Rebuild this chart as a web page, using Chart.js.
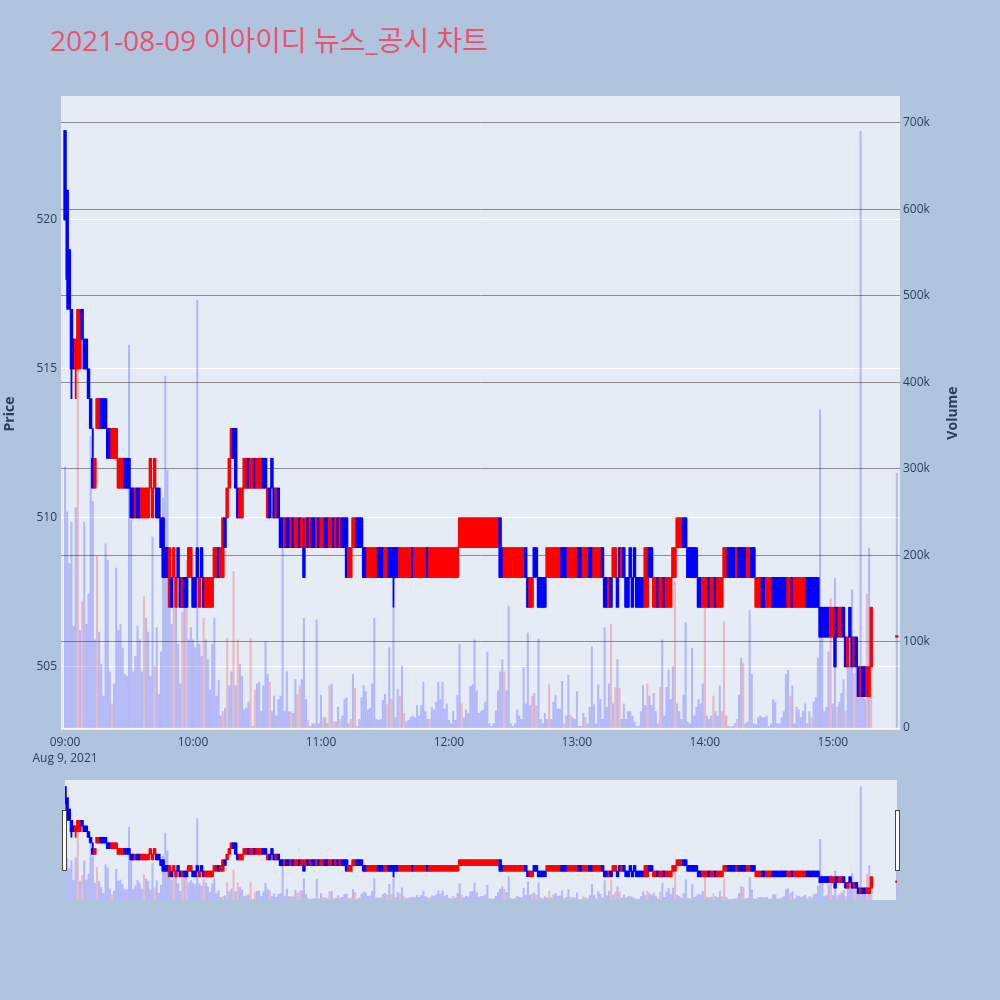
<!DOCTYPE html>
<html>
<head>
<meta charset="utf-8">
<script src="https://cdn.jsdelivr.net/npm/chart.js@4.4.0/dist/chart.umd.min.js"></script>
<style>
  html, body { margin: 0; padding: 0; background: #b0c4de; }
  #wrap { position: relative; width: 1000px; height: 1000px; }
  canvas { position: absolute; left: 0; }
  #mainChart { top: 0; }
  #sliderChart { top: 770px; }
</style>
</head>
<body>
<div id="wrap">
  <canvas id="mainChart" width="1000" height="770"></canvas>
  <canvas id="sliderChart" width="1000" height="140"></canvas>
</div>
<script>
// 1-minute candles, minutes after 09:00 (last entry = 15:30 closing auction)
var minutes = [];
for (var m = 0; m <= 378; m++) minutes.push(m);
minutes.push(390);

var opens = [
  523,521,519,517,516,515,515,515,517,516, 516,515,514,512,511,513,513,514,514,514,
  513,513,512,512,512,511,511,511,512,512, 512,511,511,510,511,511,510,510,510,510,
  511,510,511,511,511,510,510,509,509,507, 508,508,507,509,508,507,508,508,508,508,
  508,508,509,507,509,508,507,507,507,507, 508,508,509,508,508,510,510,511,512,513,
  513,511,510,510,511,511,512,511,511,512, 511,511,511,512,512,510,511,512,511,510,
  511,510,510,509,510,510,509,510,509,509, 510,509,509,509,510,509,510,510,509,510,
  509,509,510,510,509,509,510,509,510,509, 510,510,510,508,508,509,509,510,510,510,
  509,509,508,508,508,508,508,509,509,509, 508,508,509,509,509,509,509,508,508,508,
  508,508,508,509,508,508,508,508,508,508, 509,508,508,508,508,508,508,508,508,508,
  508,508,508,508,508,509,509,509,509,509, 509,509,509,509,509,509,509,509,509,509,
  509,509,509,509,510,509,508,508,508,508, 508,508,508,508,508,508,509,508,507,507,
  509,509,508,508,508,508,508,508,508,508, 508,508,508,509,509,509,508,508,508,508,
  508,509,509,508,508,508,509,509,508,508, 508,508,509,508,508,507,508,508,508,508,
  509,508,509,508,508,509,508,509,508,508, 508,508,507,507,509,509,507,507,508,507,
  507,508,507,507,507,508,508,509,509,509, 510,510,509,509,509,509,509,508,508,507,
  507,507,508,507,507,508,507,507,507,508, 508,509,509,509,509,508,509,509,509,509,
  508,508,509,509,507,507,507,508,508,507, 507,507,508,508,508,508,508,508,508,507,
  507,508,507,507,507,507,507,507,508,508, 508,508,508,508,507,507,507,507,507,506,
  506,506,507,506,506,507,506,505,507,506, 505,506,505,504,505,505,504,504,505,506
];
var closes = [
  520,518,517,515,515,516,517,517,516,515, 515,514,513,511,512,514,514,513,513,513,
  512,512,513,513,513,512,512,512,511,511, 511,510,510,511,510,510,511,511,511,511,
  512,511,512,510,510,509,508,508,508,509, 507,509,508,508,507,508,507,507,509,509,
  507,507,508,508,508,507,508,508,508,508, 509,509,508,509,510,509,511,512,513,512,
  511,510,511,511,512,512,511,512,512,511, 512,512,512,511,511,511,510,511,510,511,
  510,509,509,510,509,509,510,509,510,510, 509,510,508,510,509,510,509,509,510,509,
  510,510,509,509,510,510,509,510,509,510, 509,509,508,509,509,510,510,509,509,509,
  508,508,509,509,509,509,509,508,508,508, 509,509,508,508,508,508,508,509,509,509,
  509,509,509,508,509,509,509,509,509,509, 508,509,509,509,509,509,509,509,509,509,
  509,509,509,509,509,510,510,510,510,510, 510,510,510,510,510,510,510,510,510,510,
  510,510,510,510,508,508,509,509,509,509, 509,509,509,509,509,509,508,507,508,508,
  508,508,507,507,507,507,509,509,509,509, 509,509,509,508,508,508,509,509,509,509,
  509,508,508,509,509,509,508,508,509,509, 509,509,508,507,507,508,507,509,509,507,
  508,509,508,507,507,508,507,508,507,507, 507,507,509,509,508,508,508,508,507,508,
  508,507,508,508,508,509,509,510,510,510, 509,509,508,508,508,508,508,507,507,508,
  508,508,507,508,508,507,508,508,508,509, 509,508,508,508,508,509,508,508,508,508,
  509,509,508,508,508,508,508,507,507,508, 508,508,507,507,507,507,507,507,507,508,
  508,507,508,508,508,508,508,508,507,507, 507,507,507,507,506,506,506,506,506,507,
  507,505,506,507,507,506,505,506,506,505, 506,505,504,505,504,504,505,505,507,506
];
// wicks beyond the body, keyed by minute
var extraHighs = { 13: 513, 112: 510, 361: 507 };
var extraLows = { 1: 517, 3: 514, 5: 514, 154: 507 };

// volume in thousands of shares
var volumes = [
  302,250,190,238,118,255,445,113,146,238, 120,155,337,262,102,199,111,74,37,213,
  194,65,28,51,185,113,120,92,62,60, 443,240,65,83,118,102,65,152,127,111,
  60,221,72,116,39,88,266,407,298,208, 120,139,162,97,51,134,148,194,102,116,
  102,93,495,97,83,127,102,79,44,97, 127,37,55,14,19,23,104,49,65,181,
  49,102,74,60,21,23,30,104,2,44, 51,53,19,49,100,62,53,19,37,14,
  33,37,220,19,65,19,19,17,56,39, 49,56,127,33,9,2,5,5,125,5,
  38,12,12,5,49,51,7,7,24,10, 14,33,35,5,10,62,46,2,10,35,
  49,42,21,23,51,127,10,9,10,32, 39,27,93,33,139,12,45,37,72,17,
  7,9,12,14,12,26,14,26,53,19, 10,10,24,21,30,53,33,53,22,28,
  9,5,19,9,38,97,28,12,21,17, 48,50,102,43,17,19,21,30,88,5,
  2,5,20,43,65,79,65,43,141,5, 2,5,21,14,10,70,28,110,26,37,
  40,26,103,10,5,17,10,51,10,30, 38,22,22,54,5,14,61,15,12,10,
  42,2,2,17,12,5,24,94,27,5, 50,33,10,116,24,51,120,28,47,79,
  46,10,28,10,19,19,14,7,2,2, 19,49,26,51,37,26,40,19,5,47,
  102,14,47,67,33,71,170,28,19,10, 38,122,7,5,92,14,24,33,28,51,
  164,14,10,14,37,19,14,49,19,123, 14,2,1,2,5,10,38,81,75,5,
  7,136,62,5,4,12,14,12,12,14, 2,5,33,30,5,5,12,19,62,67,
  37,49,5,24,21,12,19,28,5,19, 12,30,35,81,368,113,19,24,88,150,
  28,173,24,30,40,56,19,79,72,160, 63,72,35,690,56,33,155,208,139,295
];
// minutes whose volume bar is drawn in the "up" colour
var upVolumeMinutes = [6,8,15,22,37,42,51,55,57,65,74,76,79,81,87,89,96,106,109,110,114,121,124,126,
  129,134,136,151,153,157,159,171,186,206,219,221,227,234,237,244,256,258,260,273,279,286,300,304,
  308,309,315,318,340,350,359,362,366,370,376,378];

var hourTicks = [0, 60, 120, 180, 240, 300, 360];
var hourLabels = ['09:00', '10:00', '11:00', '12:00', '13:00', '14:00', '15:00'];
var dateLabel = 'Aug 9, 2021';
var priceTicks = [505, 510, 515, 520];
var volumeTicks = [0, 100, 200, 300, 400, 500, 600, 700];
var chartTitle = '2021-08-09 이아이디 뉴스_공시 차트';

var UP = '#ff0000', DOWN = '#0000ff';
var FONT = '"Open Sans", "Noto Sans CJK KR", sans-serif';
Chart.defaults.font.family = FONT;

function isUp(i) { return closes[i] >= opens[i]; }

function makeDatasets() {
  return [
    {
      label: 'Candle',
      yAxisID: 'y',
      order: 1,
      grouped: false,
      barThickness: 2.8,
      minBarLength: 1.5,
      data: minutes.map(function (t, i) { return { x: t, y: [opens[i], closes[i]] }; }),
      backgroundColor: function (c) { return isUp(c.dataIndex) ? UP : DOWN; }
    },
    {
      label: 'Wick',
      yAxisID: 'y',
      order: 2,
      grouped: false,
      barThickness: 1.2,
      data: minutes.map(function (t, i) {
        var hi = extraHighs[t] !== undefined ? extraHighs[t] : Math.max(opens[i], closes[i]);
        var lo = extraLows[t] !== undefined ? extraLows[t] : Math.min(opens[i], closes[i]);
        return { x: t, y: [lo, hi] };
      }),
      backgroundColor: function (c) { return isUp(c.dataIndex) ? UP : DOWN; }
    },
    {
      label: 'Volume',
      yAxisID: 'y2',
      order: 3,
      grouped: false,
      barThickness: 1.4,
      data: minutes.map(function (t, i) { return { x: t, y: volumes[i] }; }),
      backgroundColor: function (c) {
        return upVolumeMinutes.indexOf(minutes[c.dataIndex]) >= 0 ? 'rgba(255,0,0,0.22)' : 'rgba(0,0,255,0.22)';
      }
    }
  ];
}

var plotBg = {
  id: 'plotBg',
  beforeDraw: function (chart) {
    var a = chart.chartArea, c = chart.ctx;
    c.save();
    c.fillStyle = '#e5ecf6';
    c.fillRect(a.left, a.top, a.right - a.left, a.bottom - a.top);
    c.restore();
  }
};

var mainTexts = {
  id: 'mainTexts',
  afterDraw: function (chart) {
    var c = chart.ctx;
    c.save();
    c.fillStyle = '#ee4f6a';
    c.font = '28px ' + FONT;
    c.textBaseline = 'alphabetic';
    c.fillText(chartTitle, 50, 51);

    c.fillStyle = '#2a3f5f';
    c.font = 'bold 14px ' + FONT;
    c.textAlign = 'center';
    c.textBaseline = 'middle';
    c.translate(10, 414);
    c.rotate(-Math.PI / 2);
    c.fillText('Price', 0, 0);
    c.restore();

    c.save();
    c.fillStyle = '#2a3f5f';
    c.font = 'bold 14px ' + FONT;
    c.textAlign = 'center';
    c.textBaseline = 'middle';
    c.translate(953, 413);
    c.rotate(-Math.PI / 2);
    c.fillText('Volume', 0, 0);
    c.restore();
  }
};

var tickFont = { size: 12, lineHeight: 1.35 };
var tickColor = '#2a3f5f';

new Chart(document.getElementById('mainChart'), {
  type: 'bar',
  data: { datasets: makeDatasets() },
  plugins: [plotBg, mainTexts],
  options: {
    responsive: false,
    animation: false,
    layout: { padding: { top: 96, left: 0, right: 0, bottom: 0 } },
    plugins: { legend: { display: false }, tooltip: { enabled: false } },
    scales: {
      x: {
        type: 'linear',
        offset: false,
        min: -1.9,
        max: 391.5,
        afterBuildTicks: function (s) { s.ticks = hourTicks.map(function (v) { return { value: v }; }); },
        afterFit: function (s) { s.height = 40; },
        grid: { display: false, drawTicks: false },
        border: { display: false },
        ticks: {
          autoSkip: false, maxRotation: 0, padding: 4, color: tickColor, font: tickFont,
          callback: function (v, idx) {
            var lab = hourLabels[hourTicks.indexOf(v)];
            return idx === 0 ? [lab, dateLabel] : lab;
          }
        }
      },
      y: {
        position: 'left',
        min: 502.88,
        max: 524.16,
        afterBuildTicks: function (s) { s.ticks = priceTicks.map(function (v) { return { value: v }; }); },
        afterFit: function (s) { s.width = 61; },
        grid: { color: '#ffffff', lineWidth: 1, drawTicks: false },
        border: { display: false },
        ticks: { autoSkip: false, padding: 4, color: tickColor, font: tickFont }
      },
      y2: {
        position: 'right',
        min: -2.3,
        max: 731,
        afterBuildTicks: function (s) { s.ticks = volumeTicks.map(function (v) { return { value: v }; }); },
        afterFit: function (s) { s.width = 100; },
        grid: {
          color: function (c) { return c.tick && c.tick.value === 0 ? '#ffffff' : '#8c8c8c'; },
          lineWidth: 1,
          drawTicks: false
        },
        border: { display: false },
        ticks: {
          autoSkip: false, padding: 3, color: tickColor, font: tickFont,
          callback: function (v) { return v === 0 ? '0' : v + 'k'; }
        }
      }
    }
  }
});

var sliderHandles = {
  id: 'sliderHandles',
  afterDraw: function (chart) {
    var a = chart.chartArea, c = chart.ctx;
    c.save();
    c.fillStyle = '#ffffff';
    c.strokeStyle = '#444444';
    c.lineWidth = 1;
    [a.left - 2.5, a.right - 1.5].forEach(function (hx) {
      c.fillRect(hx, 40.5, 4, 60);
      c.strokeRect(hx, 40.5, 4, 60);
    });
    c.restore();
  }
};

new Chart(document.getElementById('sliderChart'), {
  type: 'bar',
  data: { datasets: makeDatasets() },
  plugins: [plotBg, sliderHandles],
  options: {
    responsive: false,
    animation: false,
    layout: { padding: { top: 10, left: 65, right: 103, bottom: 10 } },
    plugins: { legend: { display: false }, tooltip: { enabled: false } },
    scales: {
      x: { type: 'linear', offset: false, min: 0, max: 390, display: false },
      y: { min: 502.88, max: 524.16, display: false },
      y2: { min: -2.3, max: 731, display: false }
    }
  }
});
</script>
</body>
</html>
